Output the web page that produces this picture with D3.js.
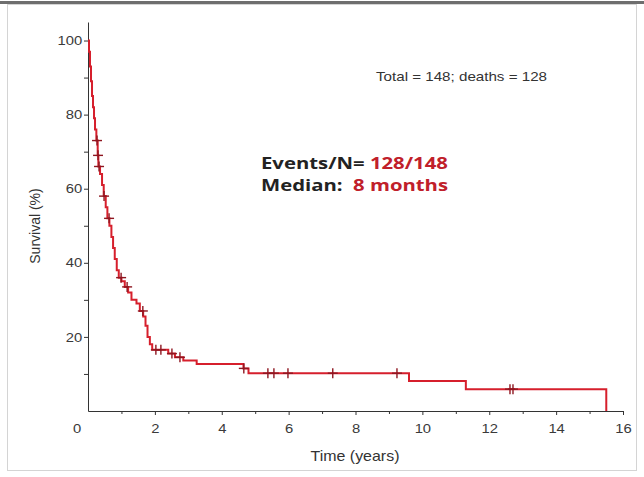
<!DOCTYPE html>
<html>
<head>
<meta charset="utf-8">
<script src="https://cdn.jsdelivr.net/npm/d3@7"></script>
<style>
  html, body { margin: 0; padding: 0; background: #fff; }
  svg { display: block; }
  .axis text { font-family: "Liberation Sans", Arial, sans-serif; font-size: 13px; fill: #3a3a3a; }
  .axis path, .axis line { stroke: #333; }
</style>
</head>
<body>
<div id="chart"></div>
<script>
// Kaplan-Meier steps: [time (years), survival %]
const kmTimes = [0, 0.03, 0.06, 0.09, 0.12, 0.15, 0.18, 0.21, 0.25, 0.29, 0.31, 0.36, 0.42,
  0.47, 0.53, 0.58, 0.64, 0.70, 0.75, 0.80, 0.86, 0.92, 1.0, 1.1, 1.2, 1.3, 1.45, 1.55,
  1.65, 1.72, 1.78, 1.85, 1.92, 2.4, 2.6, 2.85, 3.25, 4.65, 4.8, 9.6, 11.3, 15.5];
const kmSurv = [100, 97, 93, 89, 85, 82, 79, 76, 73, 69, 66, 64, 61,
  58, 55, 52, 50, 47, 44, 41, 38, 36, 35, 33.5, 32, 30, 29, 27,
  25.5, 23, 20, 18, 16.5, 15.5, 14.5, 13.6, 12.7, 11.5, 10.2, 8.1, 5.9, 0];

// censored observations (+ marks)
const censorTimes = [0.27, 0.30, 0.33, 0.48, 0.63, 0.99, 1.17, 1.64, 2.03, 2.18, 2.51, 2.75,
  4.66, 5.38, 5.56, 5.98, 7.32, 9.24, 12.62, 12.71];

const xTicks = [0, 2, 4, 6, 8, 10, 12, 14, 16];
const xMinor = [1, 3, 5, 7, 9, 11, 13, 15];
const yTicks = [20, 40, 60, 80, 100];
const yMinor = [10, 30, 50, 70, 90];

const width = 644, height = 477;
// the source slide is stretched sideways, so text is widened a little
const stretch = 1.14;

const svg = d3.select('#chart').append('svg')
  .attr('width', width)
  .attr('height', height);

// frame around the slide
svg.append('rect')
  .attr('x', 7.5).attr('y', 4.5)
  .attr('width', 629).attr('height', 466)
  .attr('fill', '#fff')
  .attr('stroke', '#d4d4d4');
svg.append('rect')
  .attr('x', 0).attr('y', 1)
  .attr('width', width).attr('height', 3)
  .attr('fill', '#6e6e6e');

const x = d3.scaleLinear().domain([0, 16]).range([88, 623]);
const y = d3.scaleLinear().domain([0, 105]).range([411, 22]);

// minor ticks
const minorX = svg.append('g').attr('class', 'axis')
  .attr('transform', `translate(0,${y(0)})`)
  .call(d3.axisBottom(x).tickValues(xMinor).tickSize(3).tickFormat('').tickSizeOuter(0));
minorX.select('.domain').remove();
const minorY = svg.append('g').attr('class', 'axis')
  .attr('transform', `translate(${x(0)},0)`)
  .call(d3.axisLeft(y).tickValues(yMinor).tickSize(4).tickFormat('').tickSizeOuter(0));
minorY.select('.domain').remove();

// main axes
const xAxis = svg.append('g').attr('class', 'axis')
  .attr('transform', `translate(0,${y(0)})`)
  .call(d3.axisBottom(x).tickValues(xTicks).tickSize(4).tickPadding(9).tickSizeOuter(0));
xAxis.selectAll('.tick text').attr('transform', `scale(${stretch},1)`);
xAxis.selectAll('.tick')
  .filter(d => d === 0)
  .select('text')
  .attr('dx', -10);
xAxis.selectAll('.tick').filter(d => d === 0).select('line').remove();

const yAxis = svg.append('g').attr('class', 'axis')
  .attr('transform', `translate(${x(0)},0)`)
  .call(d3.axisLeft(y).tickValues(yTicks).tickSize(4).tickPadding(1).tickSizeOuter(0));
yAxis.selectAll('.tick text').attr('transform', `scale(${stretch},1)`);

// axis titles
svg.append('text')
  .attr('transform', `translate(355,461) scale(${stretch},1)`)
  .attr('text-anchor', 'middle')
  .style('font-family', '"Liberation Sans", Arial, sans-serif')
  .style('font-size', '14px')
  .style('fill', '#333')
  .text('Time (years)');

svg.append('text')
  .attr('transform', 'translate(40,226) rotate(-90)')
  .attr('text-anchor', 'middle')
  .style('font-family', '"Liberation Sans", Arial, sans-serif')
  .style('font-size', '14px')
  .style('fill', '#333')
  .text('Survival (%)');

// survival curve
const km = kmTimes.map((t, i) => [t, kmSurv[i]]);
const line = d3.line()
  .x(d => x(d[0]))
  .y(d => y(d[1]))
  .curve(d3.curveStepAfter);

svg.append('path')
  .datum(km)
  .attr('fill', 'none')
  .attr('stroke', '#d61f2c')
  .attr('stroke-width', 2)
  .attr('d', line);

// survival value at a given time, from the step table
function survAt(t) {
  let s = kmSurv[0];
  for (let i = 0; i < kmTimes.length; i++) {
    if (kmTimes[i] <= t) s = kmSurv[i];
  }
  return s;
}

const marks = svg.append('g')
  .attr('stroke', '#8e1620')
  .attr('stroke-width', 1.4);
censorTimes.forEach(t => {
  const cx = x(t), cy = y(survAt(t));
  marks.append('line').attr('x1', cx).attr('x2', cx).attr('y1', cy - 5).attr('y2', cy + 5);
  marks.append('line').attr('x1', cx - 5).attr('x2', cx + 5).attr('y1', cy).attr('y2', cy);
});

// annotations
svg.append('text')
  .attr('transform', `translate(376,81) scale(${stretch},1)`)
  .style('font-family', '"Liberation Sans", Arial, sans-serif')
  .style('font-size', '13.3px')
  .style('fill', '#333')
  .text('Total = 148; deaths = 128');

// two separate lines so they don't share one box
const noteLines = [
  { y: 169, label: 'Events/N= ', value: '128/148' },
  { y: 191, label: 'Median:  ', value: '8 months' }
];
noteLines.forEach(d => {
  const t = svg.append('text')
    .attr('transform', `translate(261,${d.y}) scale(1.27,1)`)
    .style('font-family', '"Open Sans", "Noto Sans", sans-serif')
    .style('font-weight', 'bold')
    .style('font-size', '16px')
    .style('white-space', 'pre');
  t.append('tspan').style('fill', '#222').text(d.label);
  t.append('tspan').style('fill', '#c0202a').text(d.value);
});
</script>
</body>
</html>
